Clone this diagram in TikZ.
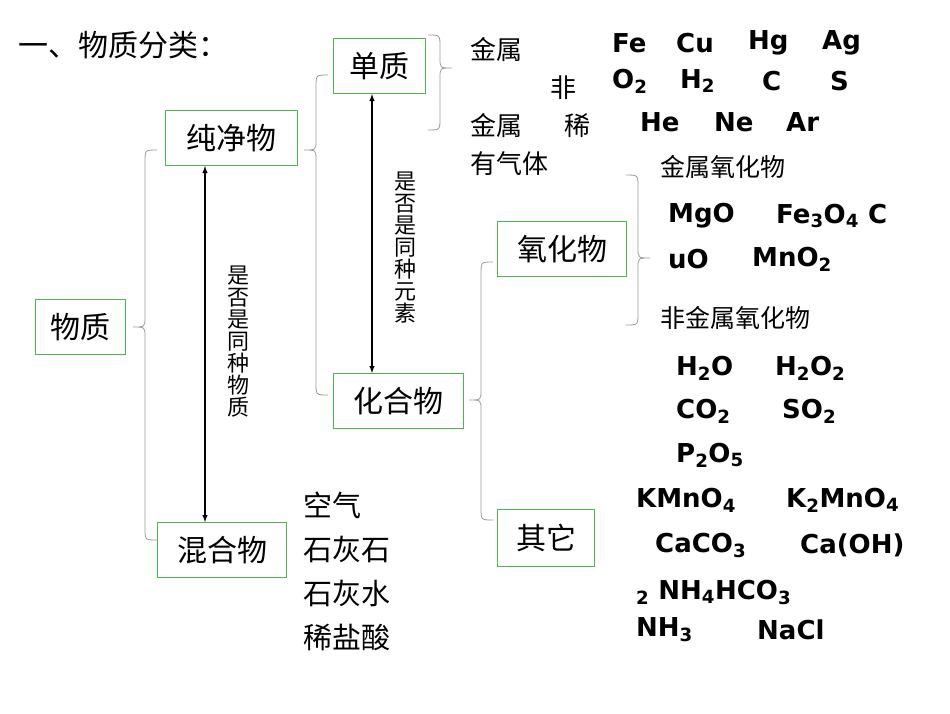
\documentclass[tikz,border=0pt]{standalone}
\usepackage{fontspec}
\setmainfont{Noto Sans CJK SC}
\newfontfamily\fm{DejaVu Sans}
\newcommand{\ssb}[1]{\textsubscript{#1}}
\newcommand{\mybrL}[4]{% x top tip bot, opens right
 \draw[brc] (#1+12,-#2) .. controls (#1,-#2) .. (#1,-#2-12) -- (#1,-#3+10) .. controls (#1,-#3) .. (#1-12,-#3)
  .. controls (#1,-#3) .. (#1,-#3-10) -- (#1,-#4+12) .. controls (#1,-#4) .. (#1+12,-#4);}
\begin{document}
\begin{tikzpicture}[x=1pt,y=1pt,
 bx/.style={draw=green!60!black!70, line width=1pt, inner sep=0pt, minimum height=55pt, font=\fontsize{30}{30}\selectfont},
 brc/.style={draw=gray!80, line width=0.8pt},
 cn/.style={anchor=west, inner sep=0pt, font=\fontsize{26}{26}\selectfont},
 sm/.style={anchor=west, inner sep=0pt, font=\fontsize{25}{25}\selectfont},
 fo/.style={anchor=west, inner sep=0pt, font=\fm\bfseries\fontsize{26}{26}\selectfont},
 vl/.style={font=\fontsize{22}{22}\selectfont, align=center, text width=24pt, inner sep=0pt},
 dar/.style={<->, >=latex, line width=1.4pt}]
\useasboundingbox (0,0) rectangle (950,-713);
\node[anchor=west, inner sep=0pt, font=\fontsize{30}{30}\selectfont] (t) at (18,-45) {一、物质分类：};
\node[bx, minimum width=90pt] (wz) at (80,-327) {物质};
\node[bx, minimum width=132pt] (cjw) at (231,-138) {纯净物};
\node[bx, minimum width=129pt] (hhw) at (222,-550) {混合物};
\node[bx, minimum width=92pt] (dz) at (379,-66) {单质};
\node[bx, minimum width=130pt] (hgw) at (398,-401) {化合物};
\node[bx, minimum width=129pt] (yhw) at (562,-249) {氧化物};
\node[bx, minimum width=97pt, minimum height=57pt] (qt) at (546,-538) {其它};
\mybrL{145}{150}{327}{540}
\mybrL{316}{75}{150}{395}
\mybrL{481}{262}{400}{520}
\begin{scope}[xscale=-1]
\mybrL{-440}{35}{68}{130}
\mybrL{-638}{175}{258}{325}
\end{scope}
\coordinate (p1) at (205,0); \coordinate (p2) at (372,0);
\draw[dar] (cjw.south -| p1) -- (hhw.north -| p1);
\draw[dar] (dz.south -| p2) -- (hgw.north -| p2);
\node[vl] (l1) at (238,-342) {是\\否\\是\\同\\种\\物\\质};
\node[vl] (l2) at (405,-248) {是\\否\\是\\同\\种\\元\\素};
\node[cn] (a1) at (470,-50) {金属};
\node[cn] (a2) at (550,-88) {非};
\node[cn] (a3) at (470,-126) {金属};
\node[cn] (a4) at (564,-126) {稀};
\node[cn] (a5) at (470,-164) {有气体};
\node[fo] at (612,-43) {Fe};
\node[fo] at (676,-43) {Cu};
\node[fo] at (748,-43) {Hg};
\node[fo] at (822,-43) {Ag};
\node[fo] at (612,-81) {O\ssb{2}};
\node[fo] at (680,-81) {H\ssb{2}};
\node[fo] at (762,-81) {C};
\node[fo] at (830,-81) {S};
\node[fo] at (640,-122) {He};
\node[fo] at (714,-122) {Ne};
\node[fo] at (786,-122) {Ar};
\node[sm] at (660,-167) {金属氧化物};
\node[fo] at (668,-216) {MgO};
\node[fo] at (776,-216) {Fe\ssb{3}O\ssb{4} C};
\node[fo] at (668,-259) {uO};
\node[fo] at (752,-259) {MnO\ssb{2}};
\node[sm] at (660,-318) {非金属氧化物};
\node[fo] at (676,-368) {H\ssb{2}O};
\node[fo] at (775,-368) {H\ssb{2}O\ssb{2}};
\node[fo] at (676,-411) {CO\ssb{2}};
\node[fo] at (782,-411) {SO\ssb{2}};
\node[fo] at (676,-455) {P\ssb{2}O\ssb{5}};
\node[fo] at (636,-500) {KMnO\ssb{4}};
\node[fo] at (786,-500) {K\ssb{2}MnO\ssb{4}};
\node[fo] at (655,-545) {CaCO\ssb{3}};
\node[fo] at (800,-545) {Ca(OH)};
\node[fo] at (636,-592) {\ssb{2} NH\ssb{4}HCO\ssb{3}};
\node[fo] at (636,-630) {NH\ssb{3}};
\node[fo] at (757,-630) {NaCl};
\node[cn, font=\fontsize{29}{29}\selectfont] at (303,-505) {空气};
\node[cn, font=\fontsize{29}{29}\selectfont] at (303,-549) {石灰石};
\node[cn, font=\fontsize{29}{29}\selectfont] at (303,-593) {石灰水};
\node[cn, font=\fontsize{29}{29}\selectfont] at (303,-637) {稀盐酸};
\end{tikzpicture}
\end{document}
